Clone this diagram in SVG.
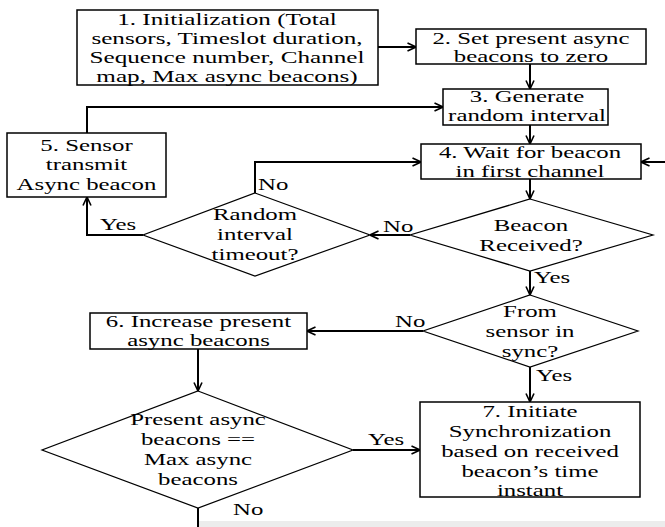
<svg xmlns="http://www.w3.org/2000/svg" width="665" height="527" viewBox="0 0 665 527">
<style>
.bx{fill:#fff;stroke:#000;stroke-width:1.5}
.dm{fill:#fff;stroke:#000;stroke-width:1.2}
.cn{fill:none;stroke:#000;stroke-width:2}
.ar{marker-end:url(#ah)}
.t{font-family:"Liberation Serif","Times New Roman",serif;font-size:17px;fill:#000;text-anchor:middle}
.l{font-family:"Liberation Serif","Times New Roman",serif;font-size:17px;fill:#000;text-anchor:start}
</style>
<defs>
<marker id="ah" viewBox="0 0 10 10" refX="9.5" refY="5" markerWidth="10" markerHeight="10" markerUnits="userSpaceOnUse" orient="auto">
<path d="M1,1 L9.5,5 L1,9" fill="none" stroke="#000" stroke-width="1.6"/>
</marker>
</defs>
<rect width="665" height="527" fill="#fff"/>
<rect x="199" y="521" width="466" height="6" fill="#ececec"/>
<g id="connectors">
<path class="cn ar" d="M378,47 H416"/>
<path class="cn ar" d="M530,64 V89"/>
<path class="cn ar" d="M530,125 V144"/>
<path class="cn ar" d="M530,179 V199"/>
<path class="cn ar" d="M410,235 H370"/>
<path class="cn ar" d="M255,193 V162 H421"/>
<path class="cn ar" d="M143,235 H87 V197"/>
<path class="cn ar" d="M87,133 V107 H443"/>
<path class="cn ar" d="M530,271 V295"/>
<path class="cn ar" d="M423,331 H307"/>
<path class="cn ar" d="M530,367 V402"/>
<path class="cn ar" d="M198,349 V391"/>
<path class="cn ar" d="M353,450 H420"/>
<path class="cn" d="M198,508 V527"/>
<path class="cn ar" d="M665,162 H641"/>
</g>
<g id="n1">
<rect class="bx" x="77" y="10" width="301" height="75"/>
<text class="t" transform="translate(227 0) scale(1.48 1)"><tspan x="0" y="25">1. Initialization (Total</tspan><tspan x="0" y="44">sensors, Timeslot duration,</tspan><tspan x="0" y="63">Sequence number, Channel</tspan><tspan x="0" y="82">map, Max async beacons)</tspan></text>
</g>
<g id="n2">
<rect class="bx" x="416" y="29" width="230" height="35"/>
<text class="t" transform="translate(531 0) scale(1.46 1)"><tspan x="0" y="44">2. Set present async</tspan><tspan x="0" y="62.5">beacons to zero</tspan></text>
</g>
<g id="n3">
<rect class="bx" x="443" y="89" width="165" height="36"/>
<text class="t" transform="translate(527 0) scale(1.46 1)"><tspan x="0" y="102.5">3. Generate</tspan><tspan x="0" y="121.5">random interval</tspan></text>
</g>
<g id="n4">
<rect class="bx" x="421" y="144" width="220" height="35"/>
<text class="t" transform="translate(530 0) scale(1.46 1)"><tspan x="0" y="158">4. Wait for beacon</tspan><tspan x="0" y="177">in first channel</tspan></text>
</g>
<g id="n5">
<rect class="bx" x="7" y="133" width="159" height="64"/>
<text class="t" transform="translate(86.5 0) scale(1.46 1)"><tspan x="0" y="151">5. Sensor</tspan><tspan x="0" y="170">transmit</tspan><tspan x="0" y="190">Async beacon</tspan></text>
</g>
<g id="d_beacon">
<polygon class="dm" points="530,199 653,235 530,271 410,235"/>
<text class="t" transform="translate(531 0) scale(1.46 1)"><tspan x="0" y="231">Beacon</tspan><tspan x="0" y="251">Received?</tspan></text>
</g>
<g id="d_random">
<polygon class="dm" points="255,193 370,235 255,276 143,235"/>
<text class="t" transform="translate(255 0) scale(1.46 1)"><tspan x="0" y="220">Random</tspan><tspan x="0" y="240">interval</tspan><tspan x="0" y="260">timeout?</tspan></text>
</g>
<g id="d_from">
<polygon class="dm" points="530,295 638,331 530,367 423,331"/>
<text class="t" transform="translate(530 0) scale(1.46 1)"><tspan x="0" y="317">From</tspan><tspan x="0" y="337">sensor in</tspan><tspan x="0" y="357">sync?</tspan></text>
</g>
<g id="n6">
<rect class="bx" x="90" y="313" width="217" height="36"/>
<text class="t" transform="translate(198.5 0) scale(1.46 1)"><tspan x="0" y="327">6. Increase present</tspan><tspan x="0" y="346.5">async beacons</tspan></text>
</g>
<g id="d_present">
<polygon class="dm" points="198,391 353,450 198,508 42,450"/>
<text class="t" transform="translate(198 0) scale(1.46 1)"><tspan x="0" y="425">Present async</tspan><tspan x="0" y="445">beacons ==</tspan><tspan x="0" y="465">Max async</tspan><tspan x="0" y="485">beacons</tspan></text>
</g>
<g id="n7">
<rect class="bx" x="420" y="402" width="220" height="95"/>
<text class="t" transform="translate(530 0) scale(1.46 1)"><tspan x="0" y="417">7. Initiate</tspan><tspan x="0" y="437">Synchronization</tspan><tspan x="0" y="457">based on received</tspan><tspan x="0" y="477">beacon’s time</tspan><tspan x="0" y="496">instant</tspan></text>
</g>
<g id="labels">
<text class="l" transform="translate(383 0) scale(1.46 1)" x="0" y="232">No</text>
<text class="l" transform="translate(258 0) scale(1.46 1)" x="0" y="190">No</text>
<text class="l" transform="translate(100 0) scale(1.46 1)" x="0" y="230">Yes</text>
<text class="l" transform="translate(534 0) scale(1.46 1)" x="0" y="283">Yes</text>
<text class="l" transform="translate(395 0) scale(1.46 1)" x="0" y="327">No</text>
<text class="l" transform="translate(536 0) scale(1.46 1)" x="0" y="381">Yes</text>
<text class="l" transform="translate(368 0) scale(1.46 1)" x="0" y="445">Yes</text>
<text class="l" transform="translate(233 0) scale(1.46 1)" x="0" y="515">No</text>
</g>
</svg>
